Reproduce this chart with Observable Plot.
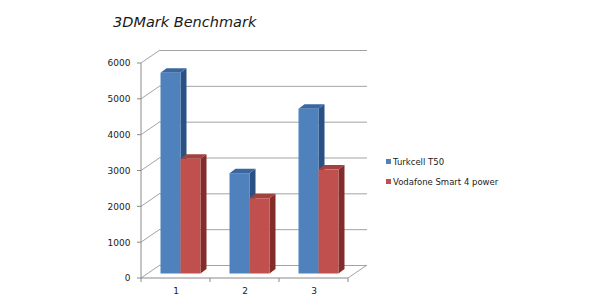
<!DOCTYPE html>
<html>
<head>
<meta charset="utf-8">
<script src="https://cdn.jsdelivr.net/npm/d3@7"></script>
<script src="https://cdn.jsdelivr.net/npm/@observablehq/plot@0.6"></script>
<style>
  html, body { margin: 0; padding: 0; background: #ffffff; }
  #chart { position: relative; width: 600px; height: 300px; overflow: hidden; font-family: "DejaVu Sans", sans-serif; }
  #chart svg { position: absolute; left: 0; top: 0; }
  #title { position: absolute; left: 113px; top: 14.5px; font-size: 14.5px; font-style: italic; line-height: 1; color: #1a1a1a; white-space: nowrap; }
  .sw { position: absolute; width: 5px; height: 5px; }
  .lt { position: absolute; font-size: 8.5px; line-height: 1; color: #222; white-space: nowrap; }
</style>
</head>
<body>
<div id="chart">
  <div id="title">3DMark Benchmark</div>
</div>
<script>
// ---- data ----
const categories = ["1", "2", "3"];
const seriesNames = ["Turkcell T50", "Vodafone Smart 4 power"];
const turkcellT50 = [5600, 2800, 4600];
const vodafoneSmart4Power = [3200, 2100, 2900];
const yTicks = [0, 1000, 2000, 3000, 4000, 5000, 6000];

// ---- styles ----
const frontColors = ["#4f81bd", "#c0504d"];
const topColors = ["#3a67a2", "#a3413e"];
const sideColors = ["#2b5083", "#832d2b"];
const gridColor = "#a3a3a3";
const axisColor = "#8a8a8a";
const BAR_W = 20;          // px width of one bar
const BAND = 69;           // px width of one category band
const OFF_X = 5, OFF_Y = -4.5;   // bars sit slightly into the depth
const DEPTH_X = 6, DEPTH_Y = -4.5; // bar depth
const WALL_X = 19, WALL_Y = -13;   // back wall offset

const rows = categories.flatMap((c, i) => [
  {cat: c, series: seriesNames[0], s: 0, value: turkcellT50[i]},
  {cat: c, series: seriesNames[1], s: 1, value: vodafoneSmart4Power[i]}
]);
const insetL = s => (s === 0 ? BAND / 2 - BAR_W : BAND / 2);
const insetR = s => (s === 0 ? BAND / 2 : BAND / 2 - BAR_W);

function svgG() { return d3.create("svg:g"); }

// side wall diagonals and floor edge (drawn through the scales)
function wallLines(index, scales, values, dims) {
  const {y} = scales;
  const g = svgG();
  const x0 = dims.marginLeft, x1 = dims.width - dims.marginRight;
  for (const t of yTicks) {
    g.append("line")
      .attr("x1", x0).attr("y1", y(t))
      .attr("x2", x0 + WALL_X).attr("y2", y(t) + WALL_Y)
      .attr("stroke", gridColor).attr("stroke-width", 1);
  }
  g.append("line")
    .attr("x1", x1).attr("y1", y(0))
    .attr("x2", x1 + WALL_X).attr("y2", y(0) + WALL_Y)
    .attr("stroke", gridColor).attr("stroke-width", 1);
  return g.node();
}

// axis lines and tick marks
function axisLines(index, scales, values, dims) {
  const {x, y} = scales;
  const g = svgG();
  const x0 = dims.marginLeft, x1 = dims.width - dims.marginRight;
  g.append("line").attr("x1", x0).attr("x2", x0).attr("y1", y(yTicks[yTicks.length - 1])).attr("y2", y(0)).attr("stroke", axisColor);
  g.append("line").attr("x1", x0).attr("x2", x1).attr("y1", y(0)).attr("y2", y(0)).attr("stroke", axisColor);
  for (const t of yTicks) {
    g.append("line").attr("x1", x0 - 4).attr("x2", x0).attr("y1", y(t)).attr("y2", y(t)).attr("stroke", axisColor);
  }
  const bounds = categories.map(c => x(c)).concat([x(categories[categories.length - 1]) + x.bandwidth()]);
  for (const b of bounds) {
    g.append("line").attr("x1", b).attr("x2", b).attr("y1", y(0)).attr("y2", y(0) + 4).attr("stroke", axisColor);
  }
  return g.node();
}

// top and side faces of the 3D columns (front faces are Plot.barY below)
function depthFaces(index, scales, values, dims) {
  const {x, y} = scales;
  const g = svgG();
  for (const d of rows) {
    const xl = x(d.cat) + insetL(d.s) + OFF_X;
    const xr = xl + BAR_W;
    const yt = y(d.value) + OFF_Y;
    const yb = y(0) + OFF_Y;
    g.append("polygon")
      .attr("points", [[xr, yt], [xr + DEPTH_X, yt + DEPTH_Y], [xr + DEPTH_X, yb + DEPTH_Y], [xr, yb]].join(" "))
      .attr("fill", sideColors[d.s]);
    g.append("polygon")
      .attr("points", [[xl, yt], [xl + DEPTH_X, yt + DEPTH_Y], [xr + DEPTH_X, yt + DEPTH_Y], [xr, yt]].join(" "))
      .attr("fill", topColors[d.s]);
  }
  return g.node();
}

const chart = Plot.plot({
  width: 600,
  height: 300,
  marginLeft: 141,
  marginRight: 252,
  marginTop: 63,
  marginBottom: 22,
  style: {background: "transparent", fontFamily: "DejaVu Sans, sans-serif", fontSize: "9px", color: "#222"},
  x: {type: "band", domain: categories, padding: 0, tickSize: 0, tickPadding: 9, label: null},
  y: {domain: [0, 6000], ticks: yTicks, tickSize: 0, tickPadding: 11, label: null, tickFormat: d3.format("d")},
  color: {domain: seriesNames, range: frontColors},
  marks: [
    Plot.ruleY(yTicks, {y: d => d, stroke: gridColor, dx: WALL_X, dy: WALL_Y}),
    wallLines,
    axisLines,
    depthFaces,
    Plot.barY(rows, {x: "cat", y: "value", fill: "series", filter: d => d.s === 0,
      insetLeft: insetL(0), insetRight: insetR(0), dx: OFF_X, dy: OFF_Y}),
    Plot.barY(rows, {x: "cat", y: "value", fill: "series", filter: d => d.s === 1,
      insetLeft: insetL(1), insetRight: insetR(1), dx: OFF_X, dy: OFF_Y})
  ]
});

const host = document.getElementById("chart");
host.insertBefore(chart, host.firstChild);

// legend
const legendTops = [159, 179];
seriesNames.forEach((name, i) => {
  const sw = document.createElement("div");
  sw.className = "sw";
  sw.style.left = "386px";
  sw.style.top = legendTops[i] + "px";
  sw.style.background = frontColors[i];
  host.appendChild(sw);
  const t = document.createElement("div");
  t.className = "lt";
  t.style.left = "393px";
  t.style.top = (legendTops[i] - 1.5) + "px";
  t.textContent = name;
  host.appendChild(t);
});
</script>
</body>
</html>
